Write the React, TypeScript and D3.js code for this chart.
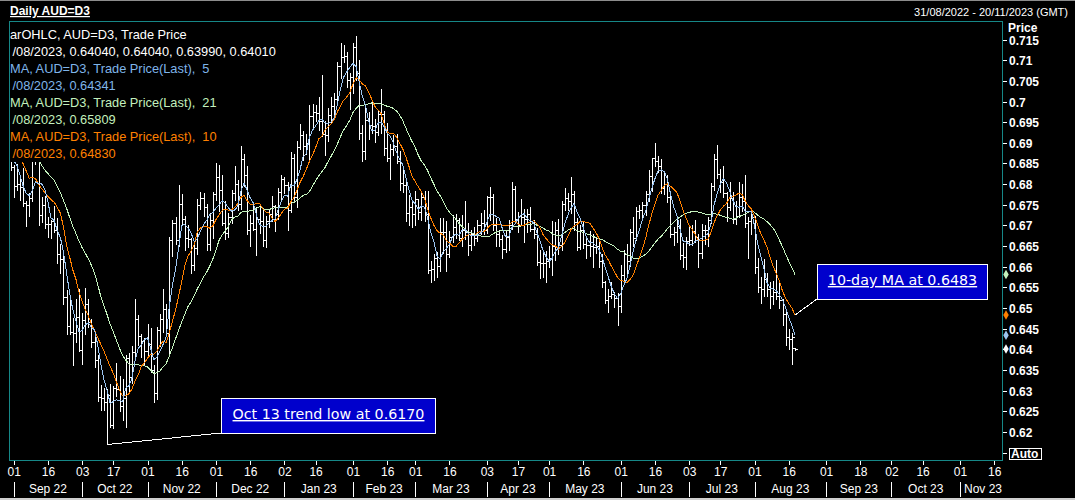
import React, { useEffect, useRef } from 'react';
import * as d3 from 'd3';

type Bar = [number, number, number, number]; // open, high, low, close

// closes before the first drawn bar (used to seed the moving averages)
const warmupCloses = [0.7033, 0.6936, 0.6942, 0.6991, 0.6910, 0.7001, 0.6975, 0.7081, 0.7106, 0.7130, 0.7030,
  0.7011, 0.6945, 0.6887, 0.6883, 0.6865, 0.6930, 0.6926, 0.6943, 0.6849, 0.6915, 0.6883];

const aug22: Bar[] = [[0.6883, 0.6890, 0.6835, 0.6842]];
const sep22: Bar[] = [
  [0.6842, 0.6847, 0.6770, 0.6795], [0.6795, 0.6848, 0.6786, 0.6800], [0.6800, 0.6815, 0.6761, 0.6792],
  [0.6792, 0.6839, 0.6747, 0.6754], [0.6754, 0.6760, 0.6698, 0.6749], [0.6749, 0.6779, 0.6722, 0.6766],
  [0.6766, 0.6865, 0.6760, 0.6858], [0.6858, 0.6917, 0.6848, 0.6904], [0.6904, 0.6915, 0.6700, 0.6726],
  [0.6726, 0.6770, 0.6709, 0.6749], [0.6749, 0.6772, 0.6693, 0.6704], [0.6704, 0.6720, 0.6671, 0.6703],
  [0.6703, 0.6714, 0.6669, 0.6711], [0.6711, 0.6747, 0.6685, 0.6690], [0.6690, 0.6719, 0.6610, 0.6632],
  [0.6632, 0.6656, 0.6584, 0.6618], [0.6618, 0.6630, 0.6509, 0.6527], [0.6527, 0.6544, 0.6436, 0.6456],
  [0.6456, 0.6529, 0.6437, 0.6441], [0.6441, 0.6475, 0.6363, 0.6440], [0.6440, 0.6522, 0.6417, 0.6479],
  [0.6479, 0.6547, 0.6396, 0.6398],
];
const oct22: Bar[] = [
  [0.6398, 0.6488, 0.6364, 0.6471], [0.6471, 0.6548, 0.6437, 0.6509], [0.6509, 0.6522, 0.6455, 0.6466],
  [0.6466, 0.6473, 0.6405, 0.6418], [0.6418, 0.6438, 0.6357, 0.6374], [0.6374, 0.6386, 0.6274, 0.6285],
  [0.6285, 0.6314, 0.6253, 0.6282], [0.6282, 0.6306, 0.6254, 0.6273], [0.6273, 0.6303, 0.6170, 0.6290],
  [0.6290, 0.6315, 0.6213, 0.6216], [0.6216, 0.6312, 0.6210, 0.6306], [0.6306, 0.6367, 0.6287, 0.6303],
  [0.6303, 0.6336, 0.6251, 0.6262], [0.6262, 0.6328, 0.6230, 0.6282], [0.6282, 0.6386, 0.6211, 0.6378],
  [0.6378, 0.6391, 0.6296, 0.6332], [0.6332, 0.6408, 0.6318, 0.6394], [0.6394, 0.6522, 0.6379, 0.6474],
  [0.6474, 0.6483, 0.6411, 0.6433], [0.6433, 0.6438, 0.6382, 0.6420], [0.6420, 0.6427, 0.6364, 0.6397],
];
const nov22: Bar[] = [
  [0.6397, 0.6462, 0.6385, 0.6414], [0.6414, 0.6451, 0.6344, 0.6350], [0.6350, 0.6363, 0.6272, 0.6294],
  [0.6294, 0.6453, 0.6280, 0.6446], [0.6446, 0.6485, 0.6409, 0.6473], [0.6473, 0.6546, 0.6443, 0.6497],
  [0.6497, 0.6510, 0.6434, 0.6440], [0.6440, 0.6672, 0.6386, 0.6664], [0.6664, 0.6714, 0.6626, 0.6707],
  [0.6707, 0.6721, 0.6654, 0.6664], [0.6664, 0.6798, 0.6649, 0.6752], [0.6752, 0.6775, 0.6701, 0.6716],
  [0.6716, 0.6723, 0.6640, 0.6670], [0.6670, 0.6700, 0.6648, 0.6668], [0.6668, 0.6670, 0.6585, 0.6604],
  [0.6604, 0.6660, 0.6592, 0.6645], [0.6645, 0.6763, 0.6632, 0.6750], [0.6750, 0.6781, 0.6739, 0.6766],
  [0.6766, 0.6779, 0.6722, 0.6745], [0.6745, 0.6753, 0.6641, 0.6655], [0.6655, 0.6730, 0.6640, 0.6714],
  [0.6714, 0.6780, 0.6669, 0.6776],
];
const dec22: Bar[] = [
  [0.6776, 0.6851, 0.6761, 0.6818], [0.6818, 0.6847, 0.6736, 0.6785], [0.6785, 0.6821, 0.6700, 0.6707],
  [0.6707, 0.6760, 0.6668, 0.6681], [0.6681, 0.6729, 0.6671, 0.6720], [0.6720, 0.6785, 0.6705, 0.6779],
  [0.6779, 0.6845, 0.6762, 0.6800], [0.6800, 0.6810, 0.6737, 0.6753], [0.6753, 0.6893, 0.6740, 0.6860],
  [0.6860, 0.6872, 0.6795, 0.6823], [0.6823, 0.6843, 0.6680, 0.6690], [0.6690, 0.6726, 0.6650, 0.6705],
  [0.6705, 0.6753, 0.6688, 0.6692], [0.6692, 0.6745, 0.6629, 0.6716], [0.6716, 0.6751, 0.6682, 0.6710],
  [0.6710, 0.6741, 0.6650, 0.6664], [0.6664, 0.6722, 0.6648, 0.6711], [0.6711, 0.6740, 0.6695, 0.6727],
  [0.6727, 0.6772, 0.6710, 0.6747], [0.6747, 0.6750, 0.6686, 0.6728], [0.6728, 0.6791, 0.6715, 0.6780],
  [0.6780, 0.6822, 0.6758, 0.6813],
];
const jan23: Bar[] = [
  [0.6813, 0.6818, 0.6778, 0.6797], [0.6797, 0.6805, 0.6688, 0.6737], [0.6737, 0.6877, 0.6733, 0.6863],
  [0.6863, 0.6872, 0.6759, 0.6768], [0.6768, 0.6905, 0.6745, 0.6890], [0.6890, 0.6946, 0.6884, 0.6919],
  [0.6919, 0.6929, 0.6858, 0.6893], [0.6893, 0.6921, 0.6873, 0.6900], [0.6900, 0.6992, 0.6862, 0.6965],
  [0.6965, 0.6993, 0.6936, 0.6975], [0.6975, 0.6992, 0.6952, 0.6972], [0.6972, 0.7011, 0.6930, 0.6953],
  [0.6953, 0.7064, 0.6917, 0.6922], [0.6922, 0.6954, 0.6871, 0.6920], [0.6920, 0.6985, 0.6905, 0.6968],
  [0.6968, 0.7012, 0.6949, 0.6988], [0.6988, 0.7020, 0.6967, 0.7005], [0.7005, 0.7095, 0.7002, 0.7086],
  [0.7086, 0.7142, 0.7056, 0.7107], [0.7107, 0.7137, 0.7096, 0.7110], [0.7110, 0.7120, 0.7036, 0.7052],
  [0.7052, 0.7069, 0.6981, 0.7060],
];
const feb23: Bar[] = [
  [0.7060, 0.7142, 0.7020, 0.7131], [0.7131, 0.7158, 0.7051, 0.7068], [0.7068, 0.7100, 0.6910, 0.6924],
  [0.6924, 0.6943, 0.6856, 0.6881], [0.6881, 0.6985, 0.6860, 0.6956], [0.6956, 0.6975, 0.6910, 0.6943],
  [0.6943, 0.7000, 0.6925, 0.6941], [0.6941, 0.6958, 0.6901, 0.6927], [0.6927, 0.6980, 0.6920, 0.6970],
  [0.6970, 0.7030, 0.6925, 0.6970], [0.6970, 0.6976, 0.6870, 0.6888], [0.6888, 0.6948, 0.6855, 0.6863],
  [0.6863, 0.6898, 0.6812, 0.6885], [0.6885, 0.6918, 0.6870, 0.6892], [0.6892, 0.6922, 0.6850, 0.6857],
  [0.6857, 0.6880, 0.6786, 0.6802], [0.6802, 0.6840, 0.6781, 0.6799], [0.6799, 0.6806, 0.6711, 0.6730],
  [0.6730, 0.6773, 0.6700, 0.6744], [0.6744, 0.6760, 0.6695, 0.6727],
];
const mar23: Bar[] = [
  [0.6727, 0.6784, 0.6701, 0.6763], [0.6763, 0.6764, 0.6715, 0.6733], [0.6733, 0.6784, 0.6714, 0.6770],
  [0.6770, 0.6783, 0.6710, 0.6727], [0.6727, 0.6784, 0.6585, 0.6592], [0.6592, 0.6615, 0.6564, 0.6594],
  [0.6594, 0.6631, 0.6568, 0.6620], [0.6620, 0.6636, 0.6574, 0.6601], [0.6601, 0.6718, 0.6590, 0.6684],
  [0.6684, 0.6717, 0.6634, 0.6685], [0.6685, 0.6711, 0.6590, 0.6630], [0.6630, 0.6687, 0.6623, 0.6671],
  [0.6671, 0.6725, 0.6661, 0.6696], [0.6696, 0.6728, 0.6670, 0.6713], [0.6713, 0.6718, 0.6664, 0.6670],
  [0.6670, 0.6725, 0.6650, 0.6689], [0.6689, 0.6758, 0.6668, 0.6683], [0.6683, 0.6705, 0.6628, 0.6652],
  [0.6652, 0.6688, 0.6640, 0.6679], [0.6679, 0.6696, 0.6652, 0.6670], [0.6670, 0.6714, 0.6663, 0.6700],
  [0.6700, 0.6730, 0.6680, 0.6707], [0.6707, 0.6737, 0.6680, 0.6688],
];
const apr23: Bar[] = [
  [0.6688, 0.6772, 0.6681, 0.6770], [0.6770, 0.6793, 0.6712, 0.6769], [0.6769, 0.6775, 0.6690, 0.6702],
  [0.6702, 0.6717, 0.6650, 0.6680], [0.6680, 0.6690, 0.6650, 0.6667], [0.6667, 0.6678, 0.6620, 0.6642],
  [0.6642, 0.6690, 0.6636, 0.6673], [0.6673, 0.6713, 0.6640, 0.6700], [0.6700, 0.6805, 0.6691, 0.6787],
  [0.6787, 0.6795, 0.6710, 0.6716], [0.6716, 0.6732, 0.6685, 0.6702], [0.6702, 0.6764, 0.6700, 0.6721],
  [0.6721, 0.6740, 0.6660, 0.6716], [0.6716, 0.6740, 0.6685, 0.6727], [0.6727, 0.6745, 0.6687, 0.6691],
  [0.6691, 0.6712, 0.6670, 0.6680], [0.6680, 0.6693, 0.6605, 0.6612], [0.6612, 0.6640, 0.6573, 0.6609],
  [0.6609, 0.6640, 0.6576, 0.6610], [0.6610, 0.6639, 0.6563, 0.6614],
];
const may23: Bar[] = [
  [0.6614, 0.6649, 0.6600, 0.6621], [0.6621, 0.6710, 0.6580, 0.6650], [0.6650, 0.6709, 0.6616, 0.6690],
  [0.6690, 0.6716, 0.6631, 0.6653], [0.6653, 0.6759, 0.6640, 0.6753], [0.6753, 0.6790, 0.6737, 0.6767],
  [0.6767, 0.6778, 0.6738, 0.6760], [0.6760, 0.6818, 0.6730, 0.6776], [0.6776, 0.6784, 0.6690, 0.6708],
  [0.6708, 0.6717, 0.6640, 0.6648], [0.6648, 0.6702, 0.6643, 0.6690], [0.6690, 0.6710, 0.6646, 0.6655],
  [0.6655, 0.6673, 0.6620, 0.6652], [0.6652, 0.6686, 0.6625, 0.6649], [0.6649, 0.6680, 0.6600, 0.6648],
  [0.6648, 0.6671, 0.6633, 0.6649], [0.6649, 0.6670, 0.6600, 0.6614], [0.6614, 0.6632, 0.6552, 0.6562],
  [0.6562, 0.6565, 0.6513, 0.6520], [0.6520, 0.6547, 0.6490, 0.6530], [0.6530, 0.6563, 0.6524, 0.6535],
  [0.6535, 0.6540, 0.6503, 0.6525], [0.6525, 0.6537, 0.6458, 0.6505],
];
const jun23: Bar[] = [
  [0.6505, 0.6603, 0.6491, 0.6580], [0.6580, 0.6640, 0.6562, 0.6632], [0.6632, 0.6656, 0.6585, 0.6615],
  [0.6615, 0.6692, 0.6602, 0.6683], [0.6683, 0.6720, 0.6650, 0.6670], [0.6670, 0.6745, 0.6664, 0.6734],
  [0.6734, 0.6750, 0.6718, 0.6738], [0.6738, 0.6756, 0.6718, 0.6750], [0.6750, 0.6784, 0.6725, 0.6777],
  [0.6777, 0.6834, 0.6760, 0.6820], [0.6820, 0.6864, 0.6784, 0.6864], [0.6864, 0.6899, 0.6845, 0.6855],
  [0.6855, 0.6868, 0.6830, 0.6844], [0.6844, 0.6860, 0.6778, 0.6790], [0.6790, 0.6832, 0.6776, 0.6800],
  [0.6800, 0.6821, 0.6757, 0.6770], [0.6770, 0.6784, 0.6671, 0.6680], [0.6680, 0.6696, 0.6652, 0.6685],
  [0.6685, 0.6717, 0.6660, 0.6698], [0.6698, 0.6715, 0.6619, 0.6628], [0.6628, 0.6658, 0.6600, 0.6624],
  [0.6624, 0.6671, 0.6595, 0.6662],
];
const jul23: Bar[] = [
  [0.6662, 0.6698, 0.6652, 0.6665], [0.6665, 0.6701, 0.6653, 0.6687], [0.6687, 0.6713, 0.6660, 0.6672],
  [0.6672, 0.6680, 0.6600, 0.6633], [0.6633, 0.6703, 0.6620, 0.6690], [0.6690, 0.6702, 0.6655, 0.6688],
  [0.6688, 0.6721, 0.6650, 0.6714], [0.6714, 0.6803, 0.6706, 0.6795], [0.6795, 0.6872, 0.6786, 0.6862],
  [0.6862, 0.6895, 0.6814, 0.6825], [0.6825, 0.6837, 0.6780, 0.6806], [0.6806, 0.6843, 0.6770, 0.6778],
  [0.6778, 0.6781, 0.6711, 0.6744], [0.6744, 0.6806, 0.6737, 0.6767], [0.6767, 0.6780, 0.6706, 0.6715],
  [0.6715, 0.6759, 0.6704, 0.6724], [0.6724, 0.6805, 0.6720, 0.6770], [0.6770, 0.6800, 0.6735, 0.6760],
  [0.6760, 0.6822, 0.6695, 0.6705], [0.6705, 0.6720, 0.6622, 0.6710], [0.6710, 0.6737, 0.6680, 0.6721],
];
const aug23: Bar[] = [
  [0.6721, 0.6724, 0.6585, 0.6599], [0.6599, 0.6622, 0.6540, 0.6550], [0.6550, 0.6574, 0.6511, 0.6545],
  [0.6545, 0.6618, 0.6530, 0.6570], [0.6570, 0.6585, 0.6530, 0.6545], [0.6545, 0.6564, 0.6499, 0.6530],
  [0.6530, 0.6566, 0.6510, 0.6538], [0.6538, 0.6616, 0.6521, 0.6528], [0.6528, 0.6560, 0.6500, 0.6519],
  [0.6519, 0.6523, 0.6460, 0.6485], [0.6485, 0.6493, 0.6410, 0.6430], [0.6430, 0.6450, 0.6400, 0.6424],
  [0.6424, 0.6440, 0.6365, 0.6430], [0.6404, 0.6404, 0.6399, 0.6401],
];

const axisStart = [2022, 7, 31]; // 31/08/2022
const axisEnd = [2023, 10, 20]; // 20/11/2023
const yTickValues = [0.62, 0.625, 0.63, 0.635, 0.64, 0.645, 0.65, 0.655, 0.66, 0.665, 0.67, 0.675, 0.68,
  0.685, 0.69, 0.695, 0.7, 0.705, 0.71, 0.715];
const yDomain = [0.6132, 0.7195];
const maPeriods = [21, 10, 5];
const maColors = ['#c4f2bd', '#ff8000', '#9cc6f2'];
const monthNames = ['Jan', 'Feb', 'Mar', 'Apr', 'May', 'Jun', 'Jul', 'Aug', 'Sep', 'Oct', 'Nov', 'Dec'];
// legend lines as they are visible in the chart window (left part scrolled out of view)
const legendTexts = [
  'arOHLC, AUD=D3, Trade Price',
  '/08/2023, 0.64040, 0.64040, 0.63990, 0.64010',
  'MA, AUD=D3, Trade Price(Last),  5',
  '/08/2023, 0.64341',
  'MA, AUD=D3, Trade Price(Last),  21',
  '/08/2023, 0.65809',
  'MA, AUD=D3, Trade Price(Last),  10',
  '/08/2023, 0.64830',
];
const legendColors = ['#ffffff', '#ffffff', '#7fb5ea', '#7fb5ea', '#c3f0bd', '#c3f0bd', '#ff8000', '#ff8000'];
const lowNoteText = 'Oct 13 trend low at 0.6170';
const lowNoteValue = 0.6170;
const lowNoteDate = [2022, 9, 13];
const maNoteText = '10-day MA at 0.6483';

export default function App() {
  const ref = useRef<SVGSVGElement>(null);

  useEffect(() => {
    const svg = d3.select(ref.current);
    svg.selectAll('*').remove();
    const W = 1075, H = 500;
    const P = { l: 9, t: 21, r: 1002, b: 460 };
    const SANS = "'Liberation Sans', Arial, sans-serif";

    const bars: Bar[] = [...aug22, ...sep22, ...oct22, ...nov22, ...dec22, ...jan23, ...feb23, ...mar23,
      ...apr23, ...may23, ...jun23, ...jul23, ...aug23];
    const days = d3.utcDay
      .range(new Date(Date.UTC(axisStart[0], axisStart[1], axisStart[2])),
        new Date(Date.UTC(axisEnd[0], axisEnd[1], axisEnd[2] + 1)))
      .filter((d) => d.getUTCDay() !== 0 && d.getUTCDay() !== 6);

    const x = d3.scaleLinear().domain([-0.5, days.length - 0.5]).range([P.l, P.r]);
    const y = d3.scaleLinear().domain(yDomain).range([P.b, P.t]);
    const px = (i: number) => Math.round(x(i)) + 0.5;
    const py = (v: number) => Math.round(y(v)) + 0.5;

    svg.append('rect').attr('width', W).attr('height', H).attr('fill', '#000');
    svg.append('rect').attr('width', W).attr('height', 1).attr('fill', '#8c8c8c');
    svg.append('rect').attr('y', H - 2).attr('width', W).attr('height', 2).attr('fill', '#cfcfcf');

    const defs = svg.append('defs');
    defs.append('clipPath').attr('id', 'plotclip').append('rect')
      .attr('x', P.l + 1).attr('y', P.t + 1).attr('width', P.r - P.l - 1).attr('height', P.b - P.t - 1);

    const plot = svg.append('g').attr('clip-path', 'url(#plotclip)');

    // OHLC bars
    let dPath = '';
    bars.forEach((b, i) => {
      const cx = px(i);
      dPath += `M${cx},${Math.round(y(b[1]))}V${Math.round(y(b[2])) + 1}`;
      dPath += `M${cx - 2.5},${py(b[0])}H${cx}`;
      dPath += `M${cx},${py(b[3])}H${cx + 2.5}`;
    });
    plot.append('path').attr('d', dPath).attr('stroke', '#ffffff').attr('stroke-width', 1)
      .attr('fill', 'none').attr('shape-rendering', 'crispEdges');

    // moving averages
    const closes = [...warmupCloses, ...bars.map((b) => b[3])];
    const off = warmupCloses.length;
    const maSeries = maPeriods.map((n) =>
      bars.map((_, i) => d3.mean(closes.slice(off + i - n + 1, off + i + 1)) as number));
    const line = d3.line<number>().x((_, i) => x(i)).y((v) => y(v));
    maSeries.forEach((s, k) => {
      plot.append('path').attr('d', line(s)).attr('fill', 'none').attr('stroke', maColors[k])
        .attr('stroke-width', 1).attr('shape-rendering', 'crispEdges');
    });

    // legend (black backing behind each line)
    const leg = svg.append('g');
    legendTexts.forEach((t, k) => {
      const base = 39 + k * 17;
      const g = leg.append('g');
      const rect = g.append('rect').attr('fill', '#000');
      const tx = k % 2 === 0 ? 10 : 12.5;
      const txt = g.append('text').attr('x', tx).attr('y', base).attr('fill', legendColors[k])
        .style('font-family', SANS).style('font-size', '12.8px').style('white-space', 'pre').text(t);
      const wTot = (txt.node() as SVGTextElement).getComputedTextLength();
      rect.attr('x', P.l + 1).attr('y', base - 13).attr('width', tx + wTot + 2 - (P.l + 1)).attr('height', 17);
    });

    // frame
    svg.append('rect').attr('x', P.l + 0.5).attr('y', P.t + 0.5).attr('width', P.r - P.l).attr('height', P.b - P.t)
      .attr('fill', 'none').attr('stroke', '#168787').attr('stroke-width', 1);

    // header
    svg.append('text').attr('x', 10).attr('y', 15).attr('fill', '#fff').style('font-family', SANS)
      .style('font-size', '12px').style('font-weight', 'bold').style('text-decoration', 'underline')
      .text('Daily AUD=D3');
    const fmtD = d3.utcFormat('%d/%m/%Y');
    svg.append('text').attr('x', 1068).attr('y', 15.5).attr('text-anchor', 'end').attr('fill', '#fff')
      .style('font-family', SANS).style('font-size', '11px')
      .text(`${fmtD(days[0])} - ${fmtD(days[days.length - 1])} (GMT)`);

    // y axis
    svg.append('text').attr('x', 1008).attr('y', 32).attr('fill', '#fff').style('font-family', SANS)
      .style('font-size', '12px').style('font-weight', 'bold').text('Price');
    yTickValues.forEach((v) => {
      const yy = py(v);
      svg.append('line').attr('x1', P.r + 1).attr('x2', P.r + 5).attr('y1', yy).attr('y2', yy)
        .attr('stroke', '#fff').attr('shape-rendering', 'crispEdges');
      svg.append('text').attr('x', 1009).attr('y', yy + 4.5).attr('fill', '#fff').style('font-family', SANS)
        .style('font-size', '12px').style('font-weight', 'bold').text(String(v));
    });
    svg.append('line').attr('x1', P.r + 1).attr('x2', P.r + 5).attr('y1', 453.5).attr('y2', 453.5)
      .attr('stroke', '#fff').attr('shape-rendering', 'crispEdges');
    svg.append('rect').attr('x', 1009.5).attr('y', 448.5).attr('width', 32).attr('height', 11)
      .attr('fill', 'none').attr('stroke', '#fff').attr('shape-rendering', 'crispEdges');
    svg.append('text').attr('x', 1011).attr('y', 458).attr('fill', '#fff').style('font-family', SANS)
      .style('font-size', '12px').style('font-weight', 'bold').text('Auto');

    // last-value markers
    const last = bars.length - 1;
    const markers: [number, string][] = [
      [maSeries[0][last], maColors[0]], [maSeries[1][last], maColors[1]],
      [maSeries[2][last], maColors[2]], [bars[last][3], '#ffffff'],
    ];
    markers.forEach(([v, c]) => {
      svg.append('path').attr('d', d3.symbol(d3.symbolDiamond, 26)()).attr('fill', c)
        .attr('transform', `translate(1006,${y(v)})`);
    });

    // x axis
    const monthStarts: number[] = [];
    days.forEach((d, i) => {
      const dd = d.getUTCDate();
      const prev = i > 0 ? days[i - 1] : null;
      const isMonthStart = dd <= 3 && (!prev || prev.getUTCMonth() !== d.getUTCMonth());
      const isMid = dd >= 16 && dd <= 18 && prev && prev.getUTCDate() < 16;
      if (isMonthStart) monthStarts.push(i);
      if (isMonthStart || isMid) {
        const xx = px(i);
        if (xx > P.r) return;
        svg.append('line').attr('x1', xx).attr('x2', xx).attr('y1', 461).attr('y2', 465)
          .attr('stroke', '#fff').attr('shape-rendering', 'crispEdges');
        svg.append('text').attr('x', x(i) + 0.5).attr('y', 476).attr('text-anchor', 'middle').attr('fill', '#fff')
          .style('font-family', SANS).style('font-size', '12px').text(d3.utcFormat('%d')(d));
      }
    });
    monthStarts.forEach((i, k) => {
      const xx = px(i);
      svg.append('line').attr('x1', xx).attr('x2', xx).attr('y1', 482).attr('y2', 497)
        .attr('stroke', '#fff').attr('shape-rendering', 'crispEdges');
      const d = days[i];
      const label = `${monthNames[d.getUTCMonth()]} ${String(d.getUTCFullYear()).slice(2)}`;
      const t = svg.append('text').attr('y', 493).attr('fill', '#fff').style('font-family', SANS)
        .style('font-size', '12px').text(label);
      if (k < monthStarts.length - 1) {
        t.attr('x', (x(i) + x(monthStarts[k + 1])) / 2).attr('text-anchor', 'middle');
      } else {
        t.attr('x', P.r).attr('text-anchor', 'end');
      }
    });

    // annotations
    const NOTE_FONT = "'DejaVu Sans', Verdana, sans-serif";
    const drawNote = (text: string, bx: number, by: number, bw: number, bh: number, ax: number, ay: number, base: number) => {
      svg.append('line').attr('x1', ax).attr('y1', ay).attr('x2', bx).attr('y2', by + bh)
        .attr('stroke', '#fff').attr('stroke-width', 1).attr('shape-rendering', 'crispEdges');
      svg.append('rect').attr('x', bx + 0.5).attr('y', by + 0.5).attr('width', bw).attr('height', bh)
        .attr('fill', '#0000cc').attr('stroke', '#fff').attr('shape-rendering', 'crispEdges');
      svg.append('text').attr('x', bx + bw / 2 + 0.5).attr('y', base).attr('text-anchor', 'middle')
        .attr('fill', '#fff').style('font-family', NOTE_FONT).style('font-size', '14.25px')
        .style('text-decoration', 'underline').text(text);
    };
    const lowIdx = days.findIndex((d) => d.getTime() === Date.UTC(lowNoteDate[0], lowNoteDate[1], lowNoteDate[2]));
    drawNote(lowNoteText, 221, 398, 214, 35, px(lowIdx), py(lowNoteValue), 419);
    drawNote(maNoteText, 817, 264, 170, 35, x(last), y(maSeries[1][last]), 285);
  }, []);

  return (
    <svg ref={ref} width={1075} height={500}
      style={{ position: 'absolute', left: 0, top: 0, display: 'block', background: '#000' }} />
  );
}
